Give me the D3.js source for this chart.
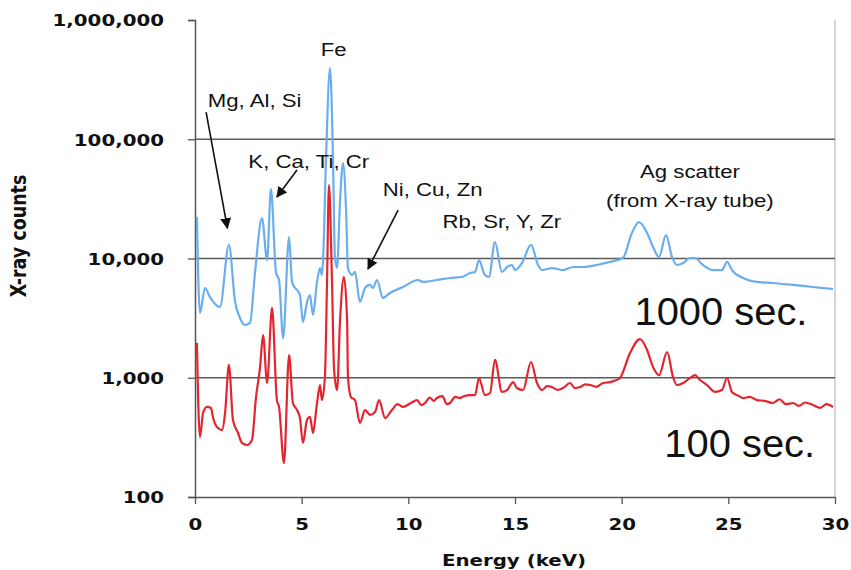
<!DOCTYPE html>
<html>
<head>
<meta charset="utf-8">
<script src="https://cdn.jsdelivr.net/npm/d3@7/dist/d3.min.js"></script>
<style>
  html, body { margin: 0; padding: 0; background: #fff; }
  svg { display: block; }
</style>
</head>
<body>
<svg id="chart" width="851" height="570"></svg>
<script>
// ---------------- DATA ----------------
const yTickValues = [100, 1000, 10000, 100000, 1000000];
const xTickValues = [0, 5, 10, 15, 20, 25, 30];

// 1000 sec. spectrum (blue): energy (keV) and counts
const energy1000 = [0.09,0.23,0.47,0.70,1.17,1.59,1.88,2.11,2.34,2.58,2.81,3.14,3.38,3.56,3.80,3.94,4.13,4.41,4.55,4.69,4.78,4.92,5.06,5.25,5.39,5.53,5.72,5.86,5.95,6.00,6.14,6.33,6.47,6.56,6.66,6.80,6.94,7.08,7.17,7.36,7.50,7.73,7.97,8.20,8.34,8.53,8.81,9.14,9.75,10.45,10.69,11.34,11.95,12.52,12.89,13.13,13.31,13.59,13.78,14.06,14.39,14.63,14.86,15.00,15.33,15.75,16.08,16.27,16.73,17.25,17.72,18.19,18.84,19.45,20.06,20.48,20.81,21.19,21.47,21.75,22.08,22.36,22.59,22.88,23.20,23.44,23.81,24.28,24.70,24.94,25.17,25.69,26.34,27.09,28.03,28.97,29.91];
const counts1000 = [22300,3490,5660,4750,3920,13000,4320,3170,2770,2880,7550,21800,9700,38300,7550,6600,2150,15100,6360,5660,5450,4940,2930,4320,4940,3360,6360,8320,7270,9360,67000,396000,67000,10100,8320,30900,63200,25500,8320,7270,7710,4320,5660,6000,5660,6600,4670,5140,5770,6600,6360,6600,6860,7000,7550,7710,9700,7270,7000,13700,7710,8490,8820,8000,9160,13000,8820,8000,8320,8000,8490,8490,8820,9360,10100,16400,20200,16400,12500,10300,15700,10300,8820,9160,10100,10100,8820,8000,8000,9360,8000,6860,6360,6230,6000,5770,5550];

// 100 sec. spectrum (red): energy (keV) and counts
const energy100 = [0.09,0.23,0.38,0.56,0.75,0.84,1.03,1.27,1.41,1.59,1.78,2.02,2.20,2.44,2.67,2.86,3.05,3.19,3.38,3.61,3.84,3.94,4.17,4.41,4.59,4.78,4.92,5.06,5.25,5.39,5.53,5.72,5.86,5.95,6.09,6.19,6.28,6.42,6.52,6.66,6.80,6.98,7.13,7.17,7.31,7.50,7.73,7.97,8.20,8.44,8.63,8.91,9.23,9.50,9.75,10.10,10.41,10.60,10.78,11.00,11.20,11.34,11.60,11.80,11.95,12.20,12.42,12.60,12.89,13.13,13.31,13.59,13.83,14.06,14.39,14.63,14.91,15.09,15.38,15.75,16.03,16.27,16.50,16.73,17.00,17.25,17.58,17.80,18.05,18.30,18.52,18.80,19.13,19.45,19.70,19.92,20.39,20.86,21.19,21.47,21.75,22.13,22.41,22.59,22.88,23.20,23.44,23.67,24.00,24.38,24.70,24.94,25.17,25.45,25.69,26.00,26.34,26.70,27.09,27.40,27.70,28.03,28.30,28.60,28.97,29.30,29.60,29.91];
const counts100 = [1960,318,506,569,557,469,386,364,506,1280,443,344,284,273,301,689,1230,2280,904,3850,650,569,193,1550,614,536,459,284,443,469,344,614,869,650,1010,6600,41300,6600,1160,789,3050,7000,3050,1010,689,650,418,536,488,516,650,459,536,600,569,610,650,590,614,680,640,676,700,600,614,690,676,700,716,716,995,716,745,1410,760,789,920,820,789,1355,904,789,850,836,790,820,904,820,836,880,869,840,904,920,950,995,1610,2110,1710,1230,1050,1640,1010,869,904,995,1050,957,869,760,789,995,760,710,676,690,650,640,614,660,600,614,580,620,590,560,600,569];

const annotations = [
  { text: "Fe", x: 6.5, y: 500000, anchor: "middle" },
  { text: "Mg, Al, Si", x: 0.6, y: 186000, anchor: "start" },
  { text: "K, Ca, Ti, Cr", x: 2.5, y: 57400, anchor: "start" },
  { text: "Ni, Cu, Zn", x: 8.8, y: 33400, anchor: "start" },
  { text: "Rb, Sr, Y, Zr", x: 11.6, y: 18000, anchor: "start" },
  { text: "Ag scatter", x: 23.2, y: 47300, anchor: "middle" },
  { text: "(from X-ray tube)", x: 23.2, y: 27000, anchor: "middle" }
];
const arrows = [
  { x1: 0.52, y1: 169000, x2: 1.52, y2: 18000 },
  { x1: 4.78, y1: 55200, x2: 3.84, y2: 32800 },
  { x1: 9.52, y1: 25500, x2: 8.11, y2: 8170 }
];
const seriesLabels = [
  { text: "1000 sec.", x: 20.6, y: 2770 },
  { text: "100 sec.", x: 22.0, y: 216 }
];

// ---------------- CHART ----------------
const svg = d3.select("#chart");
const mLeft = 195, mRight = 835, mTop = 20, mBottom = 497;
const x = d3.scaleLinear().domain([0, 30]).range([mLeft, mRight]);
const y = d3.scaleLog().domain([100, 1000000]).range([mBottom, mTop]);
const SX = 1.2; // horizontal stretch of the original's text

// right border
svg.append("line").attr("x1", mRight).attr("x2", mRight).attr("y1", mTop).attr("y2", mBottom)
  .attr("stroke", "#c8c8c8").attr("stroke-width", 1.5);

// gridlines
svg.append("g").selectAll("line").data([1000, 10000, 100000]).join("line")
  .attr("x1", mLeft).attr("x2", mRight)
  .attr("y1", d => y(d)).attr("y2", d => y(d))
  .attr("stroke", "#5a5a5a").attr("stroke-width", 1.5);

// axes
const yAxis = svg.append("g").attr("transform", `translate(${mLeft},0)`)
  .call(d3.axisLeft(y).tickValues(yTickValues).tickSize(7).tickFormat(d3.format(",")));
const xAxis = svg.append("g").attr("transform", `translate(0,${mBottom})`)
  .call(d3.axisBottom(x).tickValues(xTickValues).tickSize(7).tickSizeOuter(0));
[yAxis, xAxis].forEach(g => {
  g.select(".domain").attr("stroke", "#555").attr("stroke-width", 1.5);
  g.selectAll(".tick line").attr("stroke", "#555").attr("stroke-width", 1.3);
  g.selectAll("text").attr("font-family", "DejaVu Sans, Verdana, sans-serif")
    .attr("font-weight", "bold").attr("font-size", "16.5px").attr("fill", "#111");
});
yAxis.selectAll(".tick text").attr("x", 0).attr("dy", "0.36em")
  .attr("transform", `translate(-31,0) scale(${SX},1)`);
xAxis.selectAll(".tick text").attr("y", 0).attr("dy", 0)
  .attr("transform", `translate(0,33) scale(${SX},1)`);

// axis titles
svg.append("text").text("Energy (keV)")
  .attr("transform", `translate(${(mLeft + mRight) / 2 - 1},566) scale(${SX},1)`)
  .attr("text-anchor", "middle").attr("font-family", "DejaVu Sans, Verdana, sans-serif")
  .attr("font-weight", "bold").attr("font-size", "16.5px").attr("fill", "#111");
svg.append("text").text("X-ray counts")
  .attr("transform", `translate(26,236) rotate(-90) scale(1,${SX})`)
  .attr("text-anchor", "middle").attr("font-family", "DejaVu Sans, Verdana, sans-serif")
  .attr("font-weight", "bold").attr("font-size", "17.5px").attr("fill", "#111");

// spectra
const line = d3.line().x(d => x(d[0])).y(d => y(d[1])).curve(d3.curveMonotoneX);
const blue = energy1000.map((e, i) => [e, counts1000[i]]);
const red = energy100.map((e, i) => [e, counts100[i]]);
svg.append("path").datum(blue).attr("d", line).attr("fill", "none")
  .attr("stroke", "#6aaeee").attr("stroke-width", 2.2).attr("stroke-linejoin", "round");
svg.append("path").datum(red).attr("d", line).attr("fill", "none")
  .attr("stroke", "#e4252f").attr("stroke-width", 2.2).attr("stroke-linejoin", "round");

// arrows
svg.append("defs").append("marker").attr("id", "ah")
  .attr("viewBox", "0 0 10 10").attr("refX", 9).attr("refY", 5)
  .attr("orient", "auto")
  .attr("markerUnits", "userSpaceOnUse").attr("markerWidth", 11).attr("markerHeight", 11)
  .append("path").attr("d", "M0,0 L10,5 L0,10 z").attr("fill", "#111");
svg.append("g").selectAll("line").data(arrows).join("line")
  .attr("x1", d => x(d.x1)).attr("y1", d => y(d.y1))
  .attr("x2", d => x(d.x2)).attr("y2", d => y(d.y2))
  .attr("stroke", "#111").attr("stroke-width", 1.6).attr("marker-end", "url(#ah)");

// annotations
svg.append("g").selectAll("text").data(annotations).join("text")
  .text(d => d.text)
  .attr("transform", d => `translate(${x(d.x)},${y(d.y)}) scale(${SX},1)`)
  .attr("text-anchor", d => d.anchor)
  .attr("font-family", "Liberation Sans, Arial, sans-serif").attr("font-size", "18.5px").attr("fill", "#111");

svg.append("g").selectAll("text").data(seriesLabels).join("text")
  .text(d => d.text)
  .attr("transform", d => `translate(${x(d.x)},${y(d.y)}) scale(1.05,1)`)
  .attr("font-family", "Liberation Sans, Arial, sans-serif").attr("font-size", "38px").attr("fill", "#111");
</script>
</body>
</html>
